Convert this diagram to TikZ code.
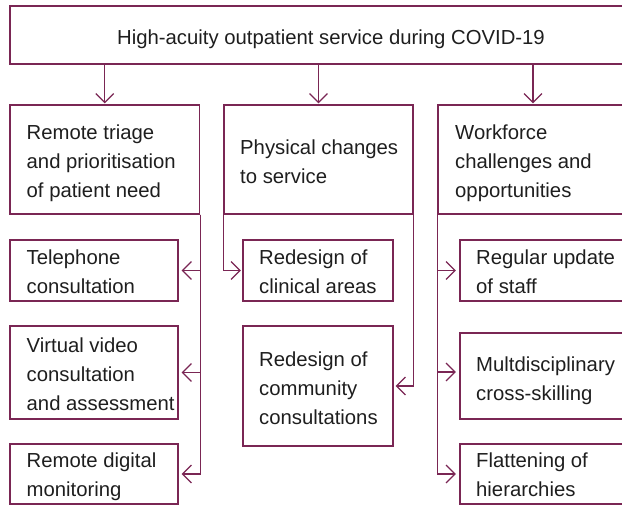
\documentclass[tikz,border=0pt]{standalone}
\usepackage{fontspec}
\setmainfont{Liberation Sans}
\usetikzlibrary{arrows.meta}
\definecolor{plum}{RGB}{122,38,84}
\definecolor{txt}{RGB}{30,30,30}
\newcommand\fsz{\fontsize{20.3}{29}\selectfont}
\tikzset{
  box/.style={draw=plum, line width=1.2pt, rectangle, inner sep=0pt},
  lbl/.style={font=\fsz, text=txt, align=left, inner sep=0pt, anchor=base west},
  conn/.style={draw=plum, line width=1.2pt, -{Straight Barb[length=9pt,width=18pt,line width=1.2pt]}},
}
\begin{document}
\begin{tikzpicture}[x=1pt,y=-1pt]
\useasboundingbox (0,0) rectangle (622,506);
% top
\node[box, minimum width=642pt, minimum height=58pt] (top) at (331,35) {};
\node[lbl, anchor=base] (top-t) at (331,45) {High-acuity outpatient service during COVID-19};
% row 2
\node[box, minimum width=189.5pt, minimum height=109pt] (A) at (104.75,159.5) {};
\node[box, minimum width=189pt, minimum height=109pt] (B) at (318.5,159.5) {};
\node[box, minimum width=190pt, minimum height=109pt] (C) at (533,159.5) {};
\node[lbl] (A-t) at (26.5,197) {Remote triage\\and prioritisation\\of patient need};
\node[lbl] (B-t) at (240,183) {Physical changes\\to service};
\node[lbl] (C-t) at (455,197) {Workforce\\challenges and\\opportunities};
% left column
\node[box, minimum width=168pt, minimum height=61pt] (tele) at (94,270.5) {};
\node[box, minimum width=168pt, minimum height=93pt] (virt) at (94,372.5) {};
\node[box, minimum width=168pt, minimum height=60pt] (remote) at (94,474) {};
\node[lbl] (tele-t) at (26.5,293) {Telephone\\consultation};
\node[lbl] (virt-t) at (26.5,410) {Virtual video\\consultation\\and assessment};
\node[lbl] (remote-t) at (26.5,496) {Remote digital\\monitoring};
% middle column
\node[box, minimum width=150pt, minimum height=61pt] (clin) at (318,270.5) {};
\node[box, minimum width=150pt, minimum height=120pt] (comm) at (318,386) {};
\node[lbl] (clin-t) at (259,293) {Redesign of\\clinical areas};
\node[lbl] (comm-t) at (259,424) {Redesign of\\community\\consultations};
% right column
\node[box, minimum width=170pt, minimum height=61pt] (reg) at (545,270.5) {};
\node[box, minimum width=170pt, minimum height=86pt] (multi) at (545,376) {};
\node[box, minimum width=170pt, minimum height=60pt] (flat) at (545,474) {};
\node[lbl] (reg-t) at (476,293) {Regular update\\of staff};
\node[lbl] (multi-t) at (476,400) {Multdisciplinary\\cross-skilling};
\node[lbl] (flat-t) at (476,496) {Flattening of\\hierarchies};
% connectors from top
\draw[conn, shorten >=1pt] (top.south -| A.north) -- (A.north);
\draw[conn, shorten >=1pt] (top.south -| B.north) -- (B.north);
\draw[conn, shorten >=1pt] (top.south -| C.north) -- (C.north);
% left branches
\draw[conn, shorten >=3pt] (A.south east) |- (tele.east);
\draw[conn, shorten >=3pt] (A.south east) |- (virt.east);
\draw[conn, shorten >=3pt] (A.south east) |- (remote.east);
% middle branches
\draw[conn, shorten >=1.5pt] (B.south west) |- (clin.west);
\draw[conn, shorten >=2pt] (B.south east) |- (comm.east);
% right branches
\draw[conn, shorten >=3.5pt] (C.south west) |- (reg.west);
\draw[conn, shorten >=3.5pt] (C.south west) |- ([yshift=4pt]multi.west);
\draw[conn, shorten >=3.5pt] (C.south west) |- (flat.west);
\end{tikzpicture}
\end{document}
